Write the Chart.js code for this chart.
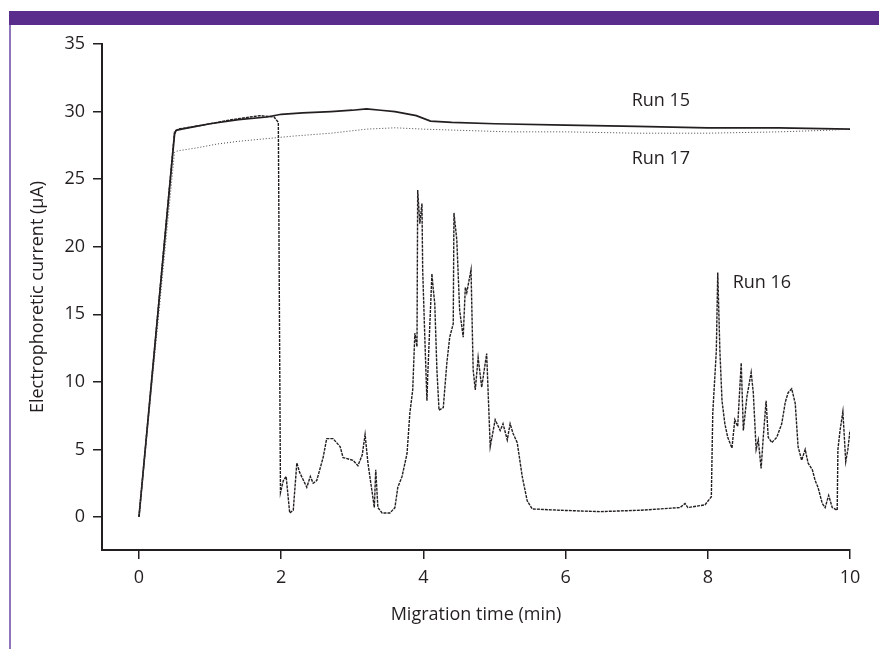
<!DOCTYPE html>
<html>
<head>
<meta charset="utf-8">
<script src="https://cdn.jsdelivr.net/npm/chart.js@4.4.0/dist/chart.umd.min.js"></script>
<style>
  body { margin: 0; background: #fff; }
  #wrap { position: relative; width: 879px; height: 649px; overflow: hidden; }
  #topbar { position: absolute; left: 9px; top: 11px; width: 870px; height: 14px; background: #5a2d8c; }
  #sidebar { position: absolute; left: 9px; top: 25px; width: 2px; height: 624px; background: #8f76bb; }
  canvas { position: absolute; left: 0; top: 0; }
</style>
</head>
<body>
<div id="wrap">
  <div id="topbar"></div>
  <div id="sidebar"></div>
  <canvas id="chart" width="879" height="649"></canvas>
</div>
<script>
// axis ticks
const xTicks = [0, 2, 4, 6, 8, 10];
const yTicks = [0, 5, 10, 15, 20, 25, 30, 35];

// Run 15 (solid)
const run15Time = [0, 0.5, 0.52, 0.6, 0.8, 1.0, 1.4, 1.8, 2.0, 2.3, 2.7, 3.0, 3.2, 3.4, 3.6, 3.9, 4.1, 4.4, 5.0, 6.0, 7.0, 8.0, 9.0, 10.0];
const run15Current = [0, 28.3, 28.6, 28.7, 28.9, 29.1, 29.4, 29.6, 29.8, 29.9, 30.0, 30.1, 30.2, 30.1, 30.0, 29.7, 29.3, 29.2, 29.1, 29.0, 28.9, 28.8, 28.8, 28.7];

// Run 17 (fine dots)
const run17Time = [0, 0.5, 0.55, 0.8, 1.1, 1.4, 1.8, 2.2, 2.7, 3.2, 3.6, 4.0, 4.6, 5.2, 6.0, 7.0, 8.0, 9.0, 9.6, 10.0];
const run17Current = [0, 27.0, 27.1, 27.3, 27.6, 27.8, 28.0, 28.2, 28.4, 28.7, 28.8, 28.7, 28.6, 28.5, 28.5, 28.4, 28.4, 28.5, 28.6, 28.7];

// Run 16 (dashed)
const run16Time = [
  0, 0.5, 0.55, 0.9, 1.3, 1.7, 1.9, 1.96, 1.99,
  2.03, 2.07, 2.12, 2.17, 2.22, 2.26, 2.36, 2.41, 2.45, 2.50, 2.59, 2.64, 2.73, 2.83, 2.87,
  3.01, 3.08, 3.14, 3.18, 3.22, 3.28, 3.31, 3.33, 3.36, 3.42, 3.53, 3.60, 3.64, 3.70, 3.77,
  3.81, 3.85, 3.88, 3.91, 3.92, 3.95, 3.98, 3.99, 4.02, 4.05, 4.06, 4.12, 4.14, 4.16, 4.19,
  4.22, 4.28, 4.33, 4.37, 4.42, 4.43, 4.47, 4.51, 4.56, 4.59, 4.61, 4.67, 4.70, 4.73, 4.77,
  4.82, 4.89, 4.94, 5.01, 5.08, 5.12, 5.18, 5.22, 5.26, 5.32, 5.39, 5.46, 5.53, 5.92, 6.48,
  7.05, 7.61, 7.68, 7.72, 7.96, 8.05, 8.07, 8.12, 8.14, 8.17, 8.20, 8.24, 8.28, 8.34, 8.38,
  8.42, 8.47, 8.50, 8.55, 8.61, 8.64, 8.68, 8.71, 8.75, 8.78, 8.82, 8.85, 8.90, 8.97, 9.04,
  9.09, 9.13, 9.18, 9.23, 9.27, 9.32, 9.37, 9.41, 9.47, 9.51, 9.55, 9.61, 9.65, 9.70, 9.75,
  9.82, 9.83, 9.86, 9.90, 9.94, 9.97, 10.0
];
const run16Current = [
  0, 28.5, 28.7, 29.0, 29.4, 29.7, 29.6, 29.2, 1.8,
  2.7, 3.0, 0.3, 0.5, 4.0, 3.3, 2.2, 3.0, 2.5, 2.7, 4.4, 5.8, 5.8, 5.2, 4.4,
  4.2, 3.8, 4.6, 6.1, 4.0, 1.8, 0.7, 3.5, 0.7, 0.3, 0.3, 0.7, 2.2, 3.0, 4.7,
  7.7, 9.4, 13.6, 12.6, 24.2, 21.7, 23.2, 18.3, 13.3, 8.6, 10.3, 18.0, 16.8, 15.8, 10.9,
  7.9, 8.1, 11.4, 13.3, 14.3, 22.5, 20.5, 15.3, 13.3, 17.0, 16.6, 18.3, 10.9, 9.4, 11.8,
  9.6, 12.1, 5.2, 7.2, 6.4, 6.9, 5.7, 6.9, 6.2, 5.5, 3.0, 1.2, 0.6, 0.5, 0.4,
  0.5, 0.7, 1.0, 0.7, 0.9, 1.5, 7.7, 12.3, 18.1, 12.3, 8.6, 6.9, 5.9, 5.1, 7.2,
  6.7, 11.4, 6.4, 8.9, 10.7, 9.2, 5.0, 5.7, 3.6, 5.9, 8.6, 5.9, 5.5, 5.9, 6.9,
  8.5, 9.2, 9.5, 8.4, 5.2, 4.2, 5.0, 4.0, 3.5, 2.7, 2.2, 1.0, 0.7, 1.6, 0.7,
  0.5, 5.0, 6.4, 7.8, 4.1, 5.0, 6.4
];

// in-plot labels
const runLabels = ["Run 15", "Run 17", "Run 16"];
const runLabelTime = [6.93, 6.93, 8.35];
const runLabelCurrent = [30.8, 26.5, 17.3];

const ink = "#231f20";
const fontFamily = "'Open Sans', 'Noto Sans', sans-serif";

function toPoints(xs, ys) {
    return xs.map((x, i) => ({ x: x, y: ys[i] }));
}

const labelPlugin = {
    id: "runLabels",
    afterDatasetsDraw(chart) {
        const ctx = chart.ctx;
        const xs = chart.scales.x;
        const ys = chart.scales.y;
        ctx.save();
        ctx.fillStyle = ink;
        ctx.font = "18px " + fontFamily;
        ctx.textAlign = "left";
        ctx.textBaseline = "middle";
        runLabels.forEach((t, i) => {
            ctx.fillText(t, xs.getPixelForValue(runLabelTime[i]), ys.getPixelForValue(runLabelCurrent[i]));
        });
        ctx.restore();
    }
};

const ctx = document.getElementById("chart").getContext("2d");

new Chart(ctx, {
    type: "scatter",
    data: {
        datasets: [
            {
                label: "Run 17",
                data: toPoints(run17Time, run17Current),
                showLine: true,
                borderColor: "#444",
                borderWidth: 1,
                borderDash: [1, 2],
                pointRadius: 0
            },
            {
                label: "Run 16",
                data: toPoints(run16Time, run16Current),
                showLine: true,
                borderColor: ink,
                borderWidth: 1.4,
                borderDash: [3, 1],
                pointRadius: 0
            },
            {
                label: "Run 15",
                data: toPoints(run15Time, run15Current),
                showLine: true,
                borderColor: ink,
                borderWidth: 1.7,
                pointRadius: 0
            }
        ]
    },
    options: {
        responsive: false,
        animation: false,
        layout: { padding: { left: 0, top: 44, right: 29, bottom: 0 } },
        plugins: {
            legend: { display: false },
            tooltip: { enabled: false }
        },
        scales: {
            x: {
                type: "linear",
                min: -0.52,
                max: 10,
                afterFit: (s) => { s.height = 99; },
                afterBuildTicks: (s) => { s.ticks = xTicks.map(v => ({ value: v })); },
                ticks: { color: ink, font: { family: fontFamily, size: 18 }, padding: 8, includeBounds: false },
                grid: { drawOnChartArea: false, drawTicks: true, tickLength: 9, color: ink, lineWidth: 1.5 },
                border: { display: true, color: ink, width: 2 },
                title: {
                    display: true,
                    text: "Migration time (min)",
                    color: ink,
                    font: { family: fontFamily, size: 18 },
                    padding: { top: 0, bottom: 23 }
                }
            },
            y: {
                type: "linear",
                min: -2.44,
                max: 35,
                afterFit: (s) => { s.width = 102; },
                afterBuildTicks: (s) => { s.ticks = yTicks.map(v => ({ value: v })); },
                ticks: { color: ink, font: { family: fontFamily, size: 18 }, padding: 8, includeBounds: false },
                grid: { drawOnChartArea: false, drawTicks: true, tickLength: 9, color: ink, lineWidth: 1.5 },
                border: { display: true, color: ink, width: 2 },
                title: {
                    display: true,
                    text: "Electrophoretic current (μA)",
                    color: ink,
                    font: { family: fontFamily, size: 18 },
                    padding: { top: 27, bottom: 0 }
                }
            }
        }
    },
    plugins: [labelPlugin]
});
</script>
</body>
</html>
